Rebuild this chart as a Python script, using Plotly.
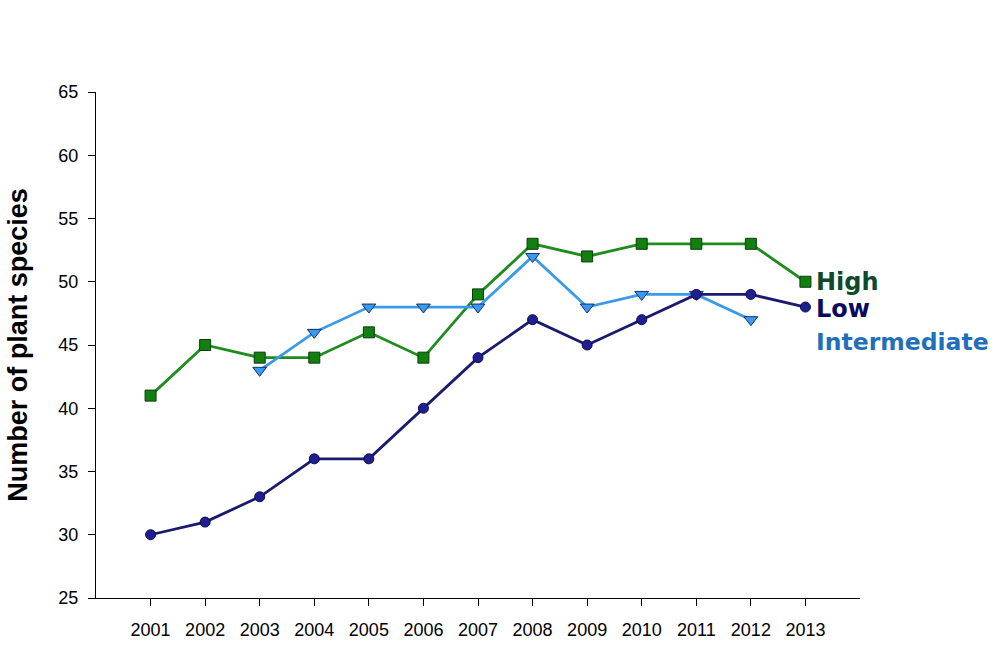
import plotly.graph_objects as go

years = list(range(2001, 2014))
high = [41, 45, 44, 44, 46, 44, 49, 53, 52, 53, 53, 53, 50]
low = [30, 31, 33, 36, 36, 40, 44, 47, 45, 47, 49, 49, 48]
inter_years = list(range(2003, 2013))
intermediate = [43, 46, 48, 48, 48, 52, 48, 49, 49, 47]
y_ticks = [25, 30, 35, 40, 45, 50, 55, 60, 65]

fig = go.Figure()
fig.add_trace(go.Scatter(x=years, y=high, mode="lines+markers", name="High",
                         line=dict(color="#1e8c1e", width=2.8),
                         marker=dict(symbol="square", size=11, color="#118011",
                                     line=dict(color="#0a3d0a", width=1))))
fig.add_trace(go.Scatter(x=inter_years, y=intermediate, mode="lines+markers", name="Intermediate",
                         line=dict(color="#3a9ae8", width=2.8),
                         marker=dict(symbol="triangle-down", size=12, color="#3a9af0",
                                     line=dict(color="#10306a", width=1))))
fig.add_trace(go.Scatter(x=years, y=low, mode="lines+markers", name="Low",
                         line=dict(color="#1a1a6e", width=2.8),
                         marker=dict(symbol="circle", size=10, color="#1f1f90",
                                     line=dict(color="#0a0a50", width=1))))

label_font = "DejaVu Sans"
fig.add_annotation(x=2013, y=50, xref="x", yref="y", text="<b>High</b>", showarrow=False,
                   xanchor="left", xshift=9, font=dict(family=label_font, size=24, color="#0d4a2c"))
fig.add_annotation(x=2013, y=47.85, xref="x", yref="y", text="<b>Low</b>", showarrow=False,
                   xanchor="left", xshift=9, font=dict(family=label_font, size=24, color="#0b0b5c"))
fig.add_annotation(x=2013, y=45.2, xref="x", yref="y", text="<b>Intermediate</b>", showarrow=False,
                   xanchor="left", xshift=9, font=dict(family=label_font, size=23.5, color="#1f6fbd"))

fig.update_layout(
    width=995, height=663,
    margin=dict(l=96, r=135, t=92, b=65),
    plot_bgcolor="white", paper_bgcolor="white",
    showlegend=False,
    font=dict(family="Liberation Sans, Arial", size=18, color="black"),
)
fig.update_xaxes(range=[2000, 2014], tickvals=years, ticktext=[str(y) for y in years],
                 showgrid=False, zeroline=False, showline=True, linecolor="black", linewidth=1,
                 ticks="outside", ticklen=7, tickcolor="black", tickfont=dict(size=18),
                 ticklabelstandoff=8)
fig.update_yaxes(range=[25, 65], tickvals=y_ticks, showgrid=False, zeroline=False,
                 showline=True, linecolor="black", linewidth=1,
                 ticks="outside", ticklen=7, tickcolor="black", tickfont=dict(size=18),
                 ticklabelstandoff=6,
                 title=dict(text="<b>Number of plant species</b>", font=dict(size=27), standoff=22))

fig.write_html("out.html")
